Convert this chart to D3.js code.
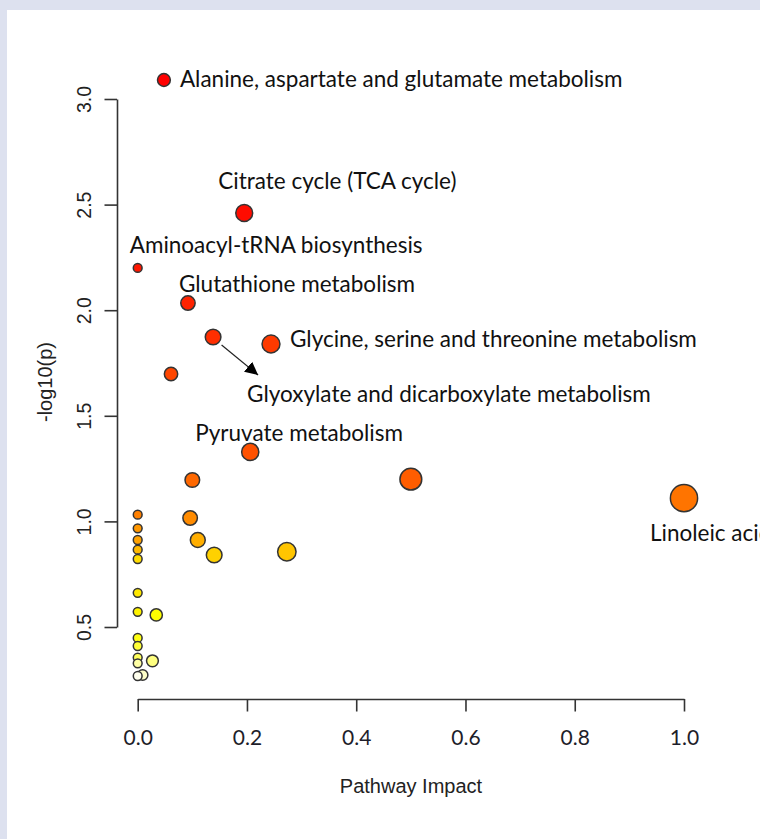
<!DOCTYPE html>
<html>
<head>
<meta charset="utf-8">
<script src="https://cdn.jsdelivr.net/npm/d3@7"></script>
<style>
  html, body { margin: 0; padding: 0; background: #dde1ef; overflow: hidden; }
  svg { display: block; }
</style>
</head>
<body>
<svg id="chart" width="760" height="839"></svg>
<script>
// Pathway impact (x) and -log10(p) (y) for each metabolic pathway
const impact = [0.048, 0.195, 0.0, 0.092, 0.138, 0.244, 0.061, 0.206, 0.5, 0.1,
                1.0, 0.0, 0.096, 0.0, 0.0, 0.11, 0.0, 0.273, 0.14, 0.0,
                0.0, 0.0, 0.034, 0.0, 0.0, 0.0, 0.027, 0.0, 0.009, 0.0];
const logP   = [3.09, 2.46, 2.20, 2.034, 1.873, 1.84, 1.698, 1.329, 1.20, 1.196,
                1.11, 1.032, 1.016, 0.967, 0.912, 0.912, 0.866, 0.856, 0.841, 0.822,
                0.662, 0.572, 0.557, 0.448, 0.41, 0.355, 0.34, 0.328, 0.273, 0.268];

// Named pathways: index into the arrays above and the label text
const labelIndex = [0, 1, 2, 3, 5, 4, 7, 10];
const labelText = [
  "Alanine, aspartate and glutamate metabolism",
  "Citrate cycle (TCA cycle)",
  "Aminoacyl-tRNA biosynthesis",
  "Glutathione metabolism",
  "Glycine, serine and threonine metabolism",
  "Glyoxylate and dicarboxylate metabolism",
  "Pyruvate metabolism",
  "Linoleic acid metabolism"
];

const xTicks = [0.0, 0.2, 0.4, 0.6, 0.8, 1.0];
const yTicks = [0.5, 1.0, 1.5, 2.0, 2.5, 3.0];

// label placement relative to the point centre (px): [dx, dy(baseline)]
const labelOffset = [
  [16, 7], [-26, -24], [-8, -15], [-9, -11],
  [19, 3], [34, 65], [-55, -11], [-34, 43]
];

const svg = d3.select("#chart");

// white plotting panel
svg.append("rect").attr("x", 7).attr("y", 10).attr("width", 753).attr("height", 829).attr("fill", "#ffffff");

const x = d3.scaleLinear().domain([0, 1]).range([137.7, 684]);
const y = d3.scaleLinear().domain([0.5, 3.0]).range([627, 99]);
const r = d3.scaleSqrt().domain([0, 1]).range([0, 9.2]);
const radius = v => 4.4 + r(v);

// heat colours by rank of significance (R's heat.colors)
function heatColors(n) {
  const j = Math.floor(n / 4), i = n - j;
  const cols = [];
  for (let k = 0; k < i; k++) {
    const h = (i > 1 ? k / (i - 1) : 0) * 60;
    cols.push(d3.hsl(h, 1, 0.5).formatHex());
  }
  for (let k = 0; k < j; k++) {
    const s = (1 - 1 / (2 * j)) + (j > 1 ? k / (j - 1) : 0) * ((1 / (2 * j)) - (1 - 1 / (2 * j)));
    // HSV(60deg, s, 1) -> RGB
    const b = Math.round(255 * (1 - s));
    cols.push(d3.rgb(255, 255, b).formatHex());
  }
  return cols;
}
const order = d3.range(logP.length).sort((a, b) => logP[b] - logP[a]);
const palette = heatColors(logP.length);
const colorOf = new Array(logP.length);
order.forEach((idx, rank) => { colorOf[idx] = palette[rank]; });

// axes
const axisColor = "#333333";
const yAxis = svg.append("g").attr("transform", "translate(117,0)")
  .call(d3.axisLeft(y).tickValues(yTicks).tickFormat(d3.format(".1f")).tickSize(12.5).tickSizeOuter(0));
yAxis.select(".domain").attr("stroke", axisColor).attr("stroke-width", 1.6);
yAxis.selectAll(".tick line").attr("stroke", axisColor).attr("stroke-width", 1.6);
yAxis.selectAll(".tick text")
  .attr("x", null).attr("dy", null)
  .attr("transform", "translate(-26,0) rotate(-90)")
  .attr("text-anchor", "middle")
  .attr("font-family", "'Liberation Sans', Arial, sans-serif")
  .attr("font-size", 19.5).attr("fill", "#222");

const xAxis = svg.append("g").attr("transform", "translate(0,699)")
  .call(d3.axisBottom(x).tickValues(xTicks).tickFormat(d3.format(".1f")).tickSize(12.5).tickSizeOuter(0));
xAxis.select(".domain").attr("stroke", axisColor).attr("stroke-width", 1.6);
xAxis.selectAll(".tick line").attr("stroke", axisColor).attr("stroke-width", 1.6);
xAxis.selectAll(".tick text")
  .attr("y", 46).attr("dy", null)
  .attr("font-family", "Lato, 'Open Sans', sans-serif")
  .attr("font-size", 21).attr("fill", "#1e1e2a");

// axis titles
svg.append("text").attr("x", 411).attr("y", 793).attr("text-anchor", "middle")
  .attr("font-family", "'Liberation Sans', Arial, sans-serif").attr("font-size", 20)
  .attr("fill", "#222").text("Pathway Impact");
svg.append("text").attr("transform", "translate(52,382) rotate(-90)").attr("text-anchor", "middle")
  .attr("font-family", "'Liberation Sans', Arial, sans-serif").attr("font-size", 20)
  .attr("fill", "#222").text("-log10(p)");

// points
svg.append("g").selectAll("circle")
  .data(d3.range(impact.length))
  .join("circle")
  .attr("cx", i => x(impact[i]))
  .attr("cy", i => y(logP[i]))
  .attr("r", i => radius(impact[i]))
  .attr("fill", i => colorOf[i])
  .attr("stroke", "#333333")
  .attr("stroke-width", 1.5);

// labels
svg.append("g").selectAll("text")
  .data(labelIndex)
  .join("text")
  .attr("x", (p, k) => x(impact[p]) + labelOffset[k][0])
  .attr("y", (p, k) => y(logP[p]) + labelOffset[k][1])
  .attr("font-family", "Lato, 'Open Sans', sans-serif")
  .attr("font-size", 22.5)
  .attr("fill", "#111")
  .text((p, k) => labelText[k]);

// arrow from the Glyoxylate point to its label
svg.append("defs").append("marker")
  .attr("id", "head").attr("viewBox", "0 0 10 10").attr("refX", 10).attr("refY", 5)
  .attr("markerWidth", 13).attr("markerHeight", 13).attr("markerUnits", "userSpaceOnUse")
  .attr("orient", "auto")
  .append("path").attr("d", "M0,0L10,5L0,10z").attr("fill", "#000");
const gx = x(impact[4]), gy = y(logP[4]);
svg.append("line")
  .attr("x1", gx + 8.5).attr("y1", gy + 8)
  .attr("x2", gx + 45).attr("y2", gy + 38)
  .attr("stroke", "#222").attr("stroke-width", 1.2)
  .attr("marker-end", "url(#head)");
</script>
</body>
</html>
